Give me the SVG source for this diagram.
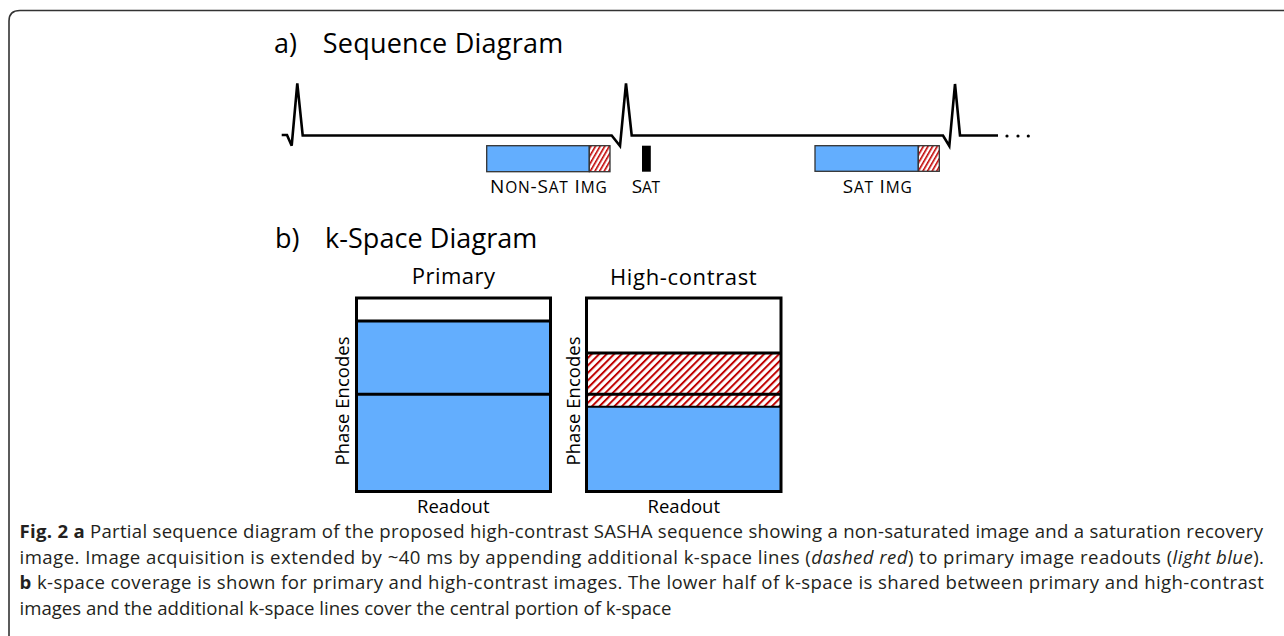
<svg xmlns="http://www.w3.org/2000/svg" width="1284" height="636" viewBox="0 0 1284 636">
<style>
text{font-family:"Open Sans","Liberation Sans",sans-serif;fill:#000}
.ttl{font-size:27px}
.sub{font-size:22px}
.ax{font-size:18.5px}
.lbl{font-size:19px}
.lbl .s{font-size:15.5px}
.cap{font-size:18.6px;fill:#231f20}
.b{font-weight:bold}
.i{font-style:italic}
.seqbox{fill:#63aefe;stroke:#333;stroke-width:1.3}
.seqhatch{fill:url(#hs);stroke:#333;stroke-width:1.3}
.kbox{fill:none;stroke:#000;stroke-width:3}
.ecg{fill:none;stroke:#000;stroke-width:2.6;stroke-linejoin:miter}
</style>
<defs>
<pattern id="hs" width="4" height="8" patternUnits="userSpaceOnUse" patternTransform="rotate(30)">
<rect width="4" height="8" fill="#fff"/>
<rect width="1.6" height="8" fill="#c00000"/>
</pattern>
<pattern id="hb" width="5.3" height="10" patternUnits="userSpaceOnUse" patternTransform="rotate(45)">
<rect width="5.3" height="10" fill="#fff"/>
<rect width="2" height="10" fill="#c00000"/>
</pattern>
</defs>
<path d="M9,640 V21 Q9,10.5 20,10.5 H1290" fill="none" stroke="#333" stroke-width="1.6"/>
<g id="title-a">
<text class="ttl" x="274" y="53.3">a)</text>
<text class="ttl" x="322.7" y="53.3" textLength="240.6">Sequence Diagram</text>
</g>
<g id="connectors">
<path class="ecg" d="M281.7,135 H287 L291.7,145.7 L297.3,83.3 L302.7,135.5 H611.7 L620,146 L626,83.3 L631.7,135.5 H943 L949.3,146 L955,84 L960,135.5 H998"/>
<g fill="#000"><circle cx="1007" cy="136" r="1.6"/><circle cx="1018" cy="136" r="1.6"/><circle cx="1028.3" cy="136" r="1.6"/></g>
</g>
<g id="nonsat-img">
<rect class="seqbox" x="486.7" y="145.7" width="102.6" height="26"/>
<rect class="seqhatch" x="589.3" y="145.7" width="20.7" height="26"/>
<text class="lbl" x="490" y="193.3" textLength="116.7">N<tspan class="s">ON</tspan>-S<tspan class="s">AT</tspan> I<tspan class="s">MG</tspan></text>
</g>
<g id="sat">
<rect x="642" y="145.7" width="8.8" height="26" fill="#000"/>
<text class="lbl" x="631.7" y="193.3" textLength="28.3">S<tspan class="s">AT</tspan></text>
</g>
<g id="sat-img">
<rect class="seqbox" x="815" y="145.7" width="103.3" height="25.6"/>
<rect class="seqhatch" x="918.3" y="145.7" width="21" height="25.6"/>
<text class="lbl" x="842.7" y="193.3" textLength="69">S<tspan class="s">AT</tspan> I<tspan class="s">MG</tspan></text>
</g>
<g id="title-b">
<text class="ttl" x="275" y="248.3">b)</text>
<text class="ttl" x="325" y="248.3" textLength="212.3">k-Space Diagram</text>
</g>
<g id="primary">
<text class="sub" x="411.7" y="284.3" textLength="83.3">Primary</text>
<rect x="356.5" y="321" width="194" height="170" fill="#63aefe"/>
<rect class="kbox" x="356.5" y="298" width="194" height="193.5"/>
<line x1="356.5" y1="321" x2="550.5" y2="321" stroke="#000" stroke-width="3"/>
<line x1="356.5" y1="394.3" x2="550.5" y2="394.3" stroke="#000" stroke-width="3"/>
<text class="ax" transform="translate(348.5,401) rotate(-90)" text-anchor="middle">Phase Encodes</text>
<text class="ax" x="453.3" y="513" text-anchor="middle">Readout</text>
</g>
<g id="high-contrast">
<text class="sub" x="610" y="285" textLength="146.7">High-contrast</text>
<rect x="586.5" y="353" width="194.5" height="53.7" fill="url(#hb)"/>
<rect x="586.5" y="406.7" width="194.5" height="85" fill="#63aefe"/>
<rect class="kbox" x="586.5" y="298" width="194.5" height="193.5"/>
<line x1="586.5" y1="353" x2="781" y2="353" stroke="#000" stroke-width="3"/>
<line x1="586.5" y1="394.3" x2="781" y2="394.3" stroke="#000" stroke-width="3"/>
<line x1="586.5" y1="406.7" x2="781" y2="406.7" stroke="#000" stroke-width="2"/>
<text class="ax" transform="translate(579.5,401) rotate(-90)" text-anchor="middle">Phase Encodes</text>
<text class="ax" x="683.8" y="513" text-anchor="middle">Readout</text>
</g>
<g id="caption">
<text class="cap" x="19.5" y="538" textLength="1243.5"><tspan class="b">Fig. 2 a</tspan> Partial sequence diagram of the proposed high-contrast SASHA sequence showing a non-saturated image and a saturation recovery</text>
<text class="cap" x="19.5" y="563.5" textLength="1244.5">image. Image acquisition is extended by ~40 ms by appending additional k-space lines (<tspan class="i">dashed red</tspan>) to primary image readouts (<tspan class="i">light blue</tspan>).</text>
<text class="cap" x="19.5" y="589" textLength="1244.5"><tspan class="b">b</tspan> k-space coverage is shown for primary and high-contrast images. The lower half of k-space is shared between primary and high-contrast</text>
<text class="cap" x="19.5" y="614.5">images and the additional k-space lines cover the central portion of k-space</text>
</g>
</svg>
